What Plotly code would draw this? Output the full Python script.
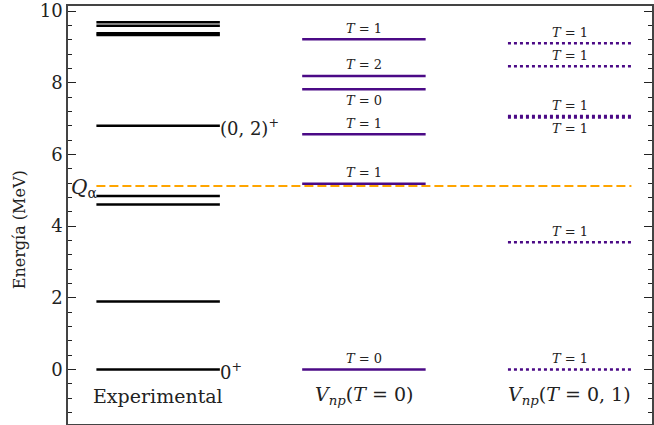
import plotly.graph_objects as go

# Level energies (MeV) for each scheme
exp_levels = [0.0, 1.9, 4.60, 4.84, 6.80, 9.33, 9.38, 9.59, 9.69]
exp_spin_labels = {0.0: "0<sup>+</sup>", 6.80: "(0, 2)<sup>+</sup>"}

vnp0_levels = [0.0, 5.18, 6.56, 7.82, 8.19, 9.21]
vnp0_T = [0, 1, 1, 0, 2, 1]

vnp01_levels = [0.0, 3.55, 7.03, 7.07, 8.46, 9.10]
vnp01_T = [1, 1, 1, 1, 1, 1]

q_alpha = 5.12

column_names = ["Experimental", "<i>V</i><sub><i>np</i></sub>(<i>T</i> = 0)",
                "<i>V</i><sub><i>np</i></sub>(<i>T</i> = 0, 1)"]

FONT = "'DejaVu Serif', 'Liberation Serif', serif"
PURPLE = "#4b0a86"
HALF = 0.30

fig = go.Figure()


def level_trace(center, levels, color, dash):
    xs, ys = [], []
    for e in levels:
        xs += [center - HALF, center + HALF, None]
        ys += [e, e, None]
    return go.Scatter(x=xs, y=ys, mode="lines", hoverinfo="skip",
                      line=dict(color=color, width=2.5, dash=dash),
                      showlegend=False)


fig.add_trace(level_trace(0, exp_levels, "black", "solid"))
fig.add_trace(level_trace(1, vnp0_levels, PURPLE, "solid"))
fig.add_trace(level_trace(2, vnp01_levels, PURPLE, "3px,3px"))

# Q_alpha threshold
fig.add_trace(go.Scatter(x=[-HALF, 2 + HALF], y=[q_alpha, q_alpha], mode="lines",
                         line=dict(color="#ffa500", width=2, dash="9px,4px"),
                         hoverinfo="skip", showlegend=False))

annotations = []


def isospin_labels(center, levels, Ts):
    for e, t in zip(levels, Ts):
        # a level sitting just under another gets its label underneath
        below = any(0 < other - e < 0.5 for other in levels)
        annotations.append(dict(x=center, y=e, xref="x", yref="y",
                                text=f"<i>T</i> = {t}", showarrow=False,
                                yshift=-11 if below else 11,
                                font=dict(family=FONT, size=13, color="#222")))


isospin_labels(1, vnp0_levels, vnp0_T)
isospin_labels(2, vnp01_levels, vnp01_T)

for e, lab in exp_spin_labels.items():
    annotations.append(dict(x=HALF, y=e, xref="x", yref="y", text=lab,
                            showarrow=False, xanchor="left", xshift=-2, yshift=-1,
                            font=dict(family=FONT, size=18, color="#222")))

annotations.append(dict(x=-HALF, y=q_alpha, xref="x", yref="y",
                        text="<i>Q</i><sub>α</sub>", showarrow=False,
                        xanchor="right", xshift=3, yshift=-2,
                        font=dict(family=FONT, size=20, color="#222")))

for i, name in enumerate(column_names):
    annotations.append(dict(x=i, y=0, xref="x", yref="y", text=name,
                            showarrow=False, yshift=-26,
                            font=dict(family=FONT, size=19, color="#222")))

annotations.append(dict(x=-0.083, y=3.9, xref="paper", yref="y",
                        xanchor="center", yanchor="middle",
                        text="Energía (MeV)", textangle=-90, showarrow=False,
                        font=dict(family=FONT, size=16, color="#222")))

fig.update_layout(
    width=654, height=425,
    margin=dict(l=68, r=0, t=6, b=1),
    paper_bgcolor="white", plot_bgcolor="white",
    annotations=annotations,
    font=dict(family=FONT, color="#222"),
)

fig.update_xaxes(range=[-0.438, 2.40], showticklabels=False, ticks="",
                 showgrid=False, zeroline=False, showline=True,
                 linecolor="#444", linewidth=1.5, mirror=True)
fig.update_yaxes(range=[-1.52, 10.14], tickvals=[0, 2, 4, 6, 8, 10],
                 ticks="inside", ticklen=8, tickwidth=1, tickcolor="#222",
                 minor=dict(dtick=0.4, tick0=0, ticks="inside", ticklen=4,
                            tickcolor="#222", showgrid=False),
                 tickfont=dict(family=FONT, size=18, color="#222"),
                 showgrid=False, zeroline=False, showline=True,
                 linecolor="#444", linewidth=1.5, mirror="ticks")

fig.write_html("out.html")
